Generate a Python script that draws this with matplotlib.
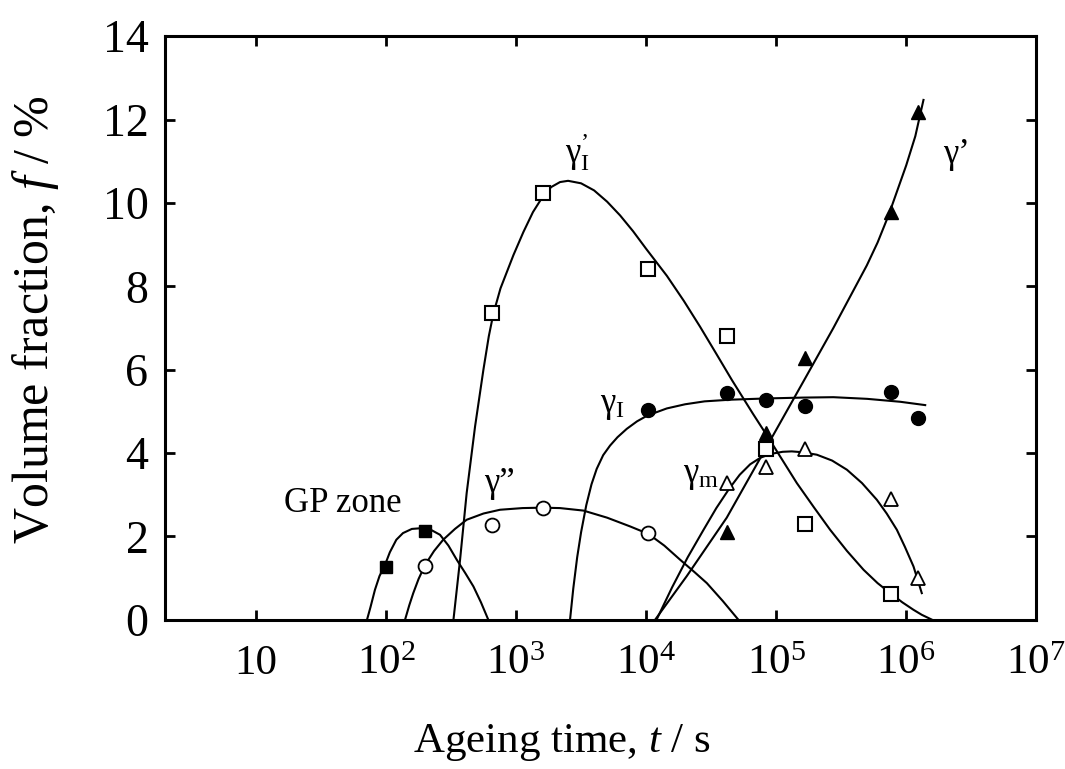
"""Fraction volumique des precipites en fonction du temps de vieillissement."""

import matplotlib
matplotlib.use("Agg")
import matplotlib.pyplot as plt
from matplotlib.ticker import NullLocator

plt.rcParams['font.family'] = ['Liberation Serif', 'DejaVu Serif']
plt.rcParams['mathtext.fontset'] = 'custom'
plt.rcParams['mathtext.rm'] = 'Liberation Serif'
plt.rcParams['mathtext.it'] = 'Liberation Serif:italic'

# Points mesures (temps en s, fraction en %)
gp_t = [100, 200]
gp_f = [1.27, 2.13]

g2_t = [200, 650, 1600, 10400]
g2_f = [1.30, 2.28, 2.69, 2.09]

g1p_t = [650, 1600, 10400, 42000, 84000, 167000, 760000]
g1p_f = [7.36, 10.24, 8.42, 6.81, 4.10, 2.30, 0.62]

g1_t = [10400, 42000, 84000, 167000, 760000, 1230000]
g1_f = [5.04, 5.44, 5.28, 5.13, 5.47, 4.84]

gp_prime_t = [42000, 84000, 167000, 760000, 1230000]
gp_prime_f = [2.10, 4.48, 6.28, 9.78, 12.18]

gm_t = [42000, 84000, 167000, 760000, 1230000]
gm_f = [3.28, 3.67, 4.10, 2.90, 1.00]

# Courbes d'ajustement
gp_fit_t = [71.4, 75.9, 82.2, 89.1, 97.7, 107, 120, 135, 158, 191, 224,
            260, 302, 350, 407, 470, 537, 612]
gp_fit_f = [0, 0.30, 0.72, 1.05, 1.30, 1.62, 1.92, 2.08, 2.18, 2.20, 2.15,
            2.04, 1.78, 1.44, 1.12, 0.80, 0.42, 0]

g2_fit_t = [140, 151, 162, 178, 200, 234, 275, 339, 417, 562, 753, 1122,
            1574, 2178, 3296, 5012, 7534, 10420, 13800, 18280, 23440,
            29310, 38900, 51290]
g2_fit_f = [0, 0.35, 0.64, 0.98, 1.32, 1.65, 1.92, 2.18, 2.40, 2.55, 2.64,
            2.68, 2.69, 2.68, 2.62, 2.45, 2.24, 2.06, 1.78, 1.44, 1.15,
            0.88, 0.45, 0]

g1p_fit_t = [330, 371, 417, 484, 561, 617, 670, 759, 955, 1138, 1349, 1603,
             1862, 2178, 2512, 3162, 3981, 5012, 6310, 7943, 10000, 14450,
             19500, 26000, 34670, 45710, 66070, 89950, 144200, 195000,
             260000, 350800, 470000, 602600, 753400, 933300, 1138000,
             1318000, 1585000]
g1p_fit_f = [0, 1.44, 3.04, 4.64, 6.00, 6.80, 7.35, 7.95, 8.75, 9.30, 9.78,
             10.15, 10.38, 10.50, 10.53, 10.47, 10.30, 10.03, 9.70, 9.32,
             8.90, 8.25, 7.65, 7.03, 6.38, 5.75, 4.95, 4.30, 3.28, 2.70,
             2.16, 1.65, 1.20, 0.88, 0.64, 0.42, 0.24, 0.12, 0]

g1_fit_t = [2600, 2754, 2951, 3162, 3467, 3802, 4169, 4677, 5284, 6026,
            7096, 8511, 10230, 14420, 19950, 28180, 44670, 85110, 158500,
            275400, 501200, 899500, 1400000]
g1_fit_f = [0, 0.75, 1.50, 2.10, 2.75, 3.25, 3.62, 3.95, 4.18, 4.38, 4.58,
            4.76, 4.90, 5.07, 5.17, 5.24, 5.28, 5.31, 5.33, 5.34, 5.30,
            5.23, 5.15]

gm_fit_t = [12020, 15850, 20890, 27540, 34670, 43650, 52480, 63100, 75860,
            91200, 112200, 131800, 158500, 205600, 269200, 350000, 457100,
            594300, 707900, 847300, 977200, 1138000, 1318000]
gm_fit_f = [0, 0.78, 1.50, 2.15, 2.68, 3.15, 3.48, 3.73, 3.89, 3.98, 4.03,
            4.04, 4.02, 3.96, 3.82, 3.60, 3.28, 2.88, 2.55, 2.16, 1.75,
            1.28, 0.64]

gp_prime_fit_t = [11720, 20560, 41690, 89950, 162200, 275400, 497700,
                  602600, 731100, 1000000, 1175000, 1358000]
gp_prime_fit_f = [0, 1.05, 2.45, 4.30, 5.72, 7.00, 8.50, 9.05, 9.70, 10.90,
                  11.60, 12.47]

x_ticks = [10, 100, 1000, 10000, 100000, 1000000, 10000000]
x_labels = ['10', '10$^{2}$', '10$^{3}$', '10$^{4}$', '10$^{5}$',
            '10$^{6}$', '10$^{7}$']
y_ticks = [0, 2, 4, 6, 8, 10, 12, 14]

fig = plt.figure(figsize=(10.65, 7.69), dpi=100)
ax = fig.add_axes([0.155, 0.194, 0.818, 0.759])

# Courbes
for t, f in [(gp_fit_t, gp_fit_f), (g2_fit_t, g2_fit_f),
             (g1p_fit_t, g1p_fit_f), (g1_fit_t, g1_fit_f),
             (gm_fit_t, gm_fit_f), (gp_prime_fit_t, gp_prime_fit_f)]:
    ax.plot(t, f, color='black', lw=1.5, zorder=2)

# Points
ax.plot(gp_t, gp_f, 's', ms=9, color='black', zorder=3)
ax.plot(g2_t, g2_f, 'o', ms=10, mfc='white', mec='black', mew=1.3, zorder=3)
ax.plot(g1p_t, g1p_f, 's', ms=9.5, mfc='white', mec='black', mew=1.5,
        zorder=3)
ax.plot(g1_t, g1_f, 'o', ms=10, color='black', zorder=3)
ax.plot(gp_prime_t, gp_prime_f, '^', ms=10, color='black', zorder=3)
ax.plot(gm_t, gm_f, '^', ms=10, mfc='white', mec='black', mew=1.3,
        zorder=3)

# Etiquettes des phases
ax.text(133, 2.59, 'GP zone', fontsize=25, ha='right', va='baseline')
ax.text(567, 3.07, 'γ”', fontsize=25, ha='left', va='baseline')
ax.text(2380, 10.96, 'γ$^{’}_{\\mathrm{I}}$', fontsize=25, ha='left',
        va='baseline')
ax.text(4430, 4.99, 'γ$_{\\mathrm{I}}$', fontsize=25, ha='left',
        va='baseline')
ax.text(19280, 3.31, 'γ$_{\\mathrm{m}}$', fontsize=25, ha='left',
        va='baseline')
ax.text(1930000, 10.96, 'γ’', fontsize=25, ha='left', va='baseline')

ax.set_xscale('log')
ax.set_xlim(2, 1e7)
ax.set_ylim(0, 14)
ax.set_xticks(x_ticks)
ax.set_xticklabels(x_labels)
ax.xaxis.set_minor_locator(NullLocator())
ax.set_yticks(y_ticks)

ax.tick_params(direction='in', length=7, width=2, top=True, right=True)
ax.tick_params(axis='x', pad=18, labelsize=31)
ax.tick_params(axis='y', pad=12, labelsize=33)
for s in ax.spines.values():
    s.set_linewidth(2.2)

ax.set_xlabel('Ageing time, $t$ / s', fontsize=31)
ax.set_ylabel('Volume fraction, $f$ / %', fontsize=36)
ax.xaxis.set_label_coords(0.456, -0.175)
ax.yaxis.set_label_coords(-0.119, 0.514)

plt.savefig("out.png", dpi=100)
